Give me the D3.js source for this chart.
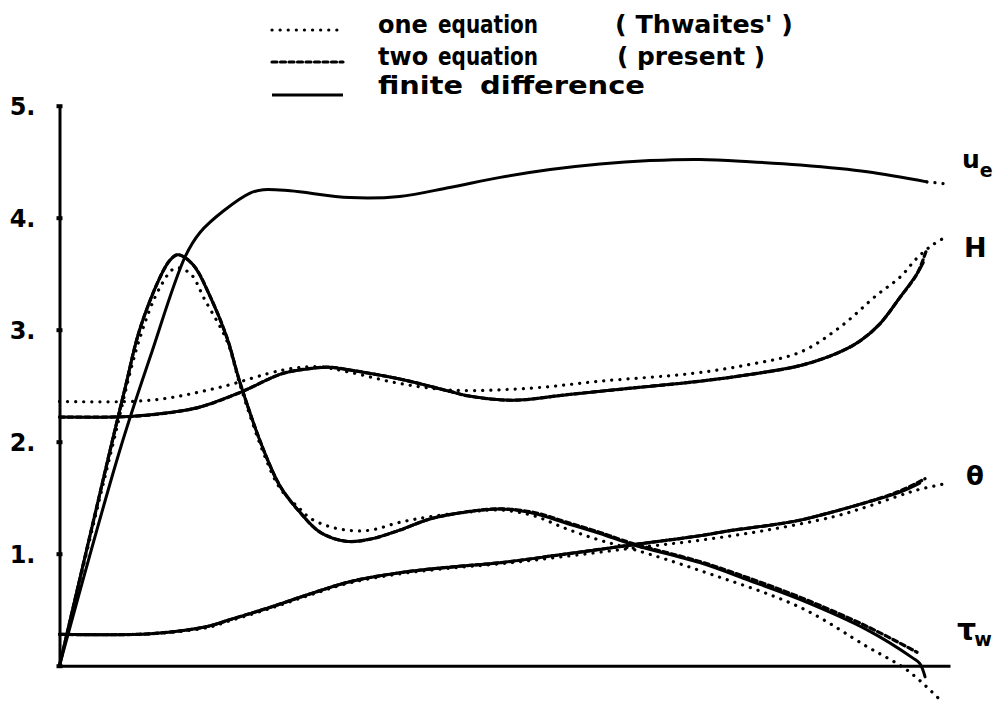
<!DOCTYPE html>
<html>
<head>
<meta charset="utf-8">
<script src="https://cdn.jsdelivr.net/npm/d3@7"></script>
<style>
  body { margin: 0; background: #fff; }
  text { font-family: "DejaVu Sans", sans-serif; font-weight: bold; fill: #000; }
</style>
</head>
<body>
<svg id="chart" width="997" height="702"></svg>
<script>
// y-axis ticks
const yTickValues = [0, 1, 2, 3, 4, 5];

// Edge velocity u_e (input distribution)
const ueFD = [[0,0],[0.068,1.93],[0.102,2.76],[0.141,3.65],[0.158,3.87],[0.184,4.06],[0.214,4.22],[0.229,4.25],[0.259,4.24],[0.326,4.18],[0.382,4.19],[0.438,4.27],[0.495,4.36],[0.551,4.43],[0.607,4.48],[0.663,4.51],[0.719,4.52],[0.775,4.50],[0.832,4.47],[0.907,4.41],[0.974,4.32]];
const ueTail = [[0.974,4.32],[0.998,4.30]];

// Shape factor H
const hFD  = [[0,2.22],[0.079,2.225],[0.124,2.26],[0.158,2.31],[0.203,2.44],[0.251,2.61],[0.289,2.66],[0.304,2.665],[0.326,2.64],[0.382,2.56],[0.438,2.45],[0.458,2.41],[0.509,2.37],[0.570,2.42],[0.644,2.48],[0.719,2.54],[0.775,2.60],[0.832,2.68],[0.876,2.80],[0.899,2.90],[0.921,3.05],[0.944,3.29],[0.963,3.50],[0.970,3.60]];
const hTwo = [[0,2.22],[0.079,2.225],[0.124,2.26],[0.158,2.31],[0.203,2.44],[0.251,2.61],[0.289,2.66],[0.304,2.665],[0.326,2.64],[0.382,2.56],[0.438,2.45],[0.458,2.41],[0.509,2.37],[0.570,2.42],[0.644,2.48],[0.719,2.54],[0.775,2.60],[0.832,2.68],[0.876,2.80],[0.899,2.90],[0.921,3.05],[0.944,3.29],[0.963,3.50],[0.974,3.72]];
const hOne = [[0,2.36],[0.102,2.37],[0.177,2.48],[0.251,2.64],[0.289,2.67],[0.326,2.62],[0.382,2.52],[0.442,2.46],[0.532,2.48],[0.607,2.54],[0.711,2.61],[0.775,2.69],[0.832,2.80],[0.876,3.02],[0.918,3.31],[0.944,3.47],[0.963,3.64],[0.981,3.76],[0.998,3.84]];

// Momentum thickness theta
const thFD  = [[0,0.28],[0.102,0.285],[0.166,0.35],[0.191,0.41],[0.236,0.52],[0.281,0.64],[0.326,0.75],[0.382,0.83],[0.438,0.88],[0.495,0.92],[0.562,0.99],[0.644,1.08],[0.719,1.16],[0.756,1.21],[0.794,1.25],[0.832,1.30],[0.869,1.375],[0.907,1.46],[0.944,1.55],[0.966,1.63]];
const thTwo = [[0,0.28],[0.102,0.285],[0.166,0.35],[0.191,0.41],[0.236,0.52],[0.281,0.64],[0.326,0.75],[0.382,0.83],[0.438,0.88],[0.495,0.92],[0.562,0.99],[0.644,1.08],[0.719,1.16],[0.756,1.21],[0.794,1.25],[0.832,1.30],[0.869,1.375],[0.907,1.46],[0.944,1.56],[0.972,1.67]];
const thOne = [[0,0.28],[0.102,0.285],[0.166,0.34],[0.191,0.40],[0.236,0.51],[0.281,0.63],[0.326,0.74],[0.382,0.82],[0.438,0.87],[0.495,0.91],[0.562,0.97],[0.644,1.05],[0.719,1.12],[0.794,1.21],[0.869,1.33],[0.907,1.42],[0.944,1.52],[0.966,1.575],[0.998,1.63]];

// Wall shear stress tau_w
const twFD  = [[0,0],[0.057,1.93],[0.074,2.49],[0.090,3.0],[0.113,3.47],[0.124,3.62],[0.133,3.67],[0.150,3.58],[0.169,3.30],[0.188,2.93],[0.203,2.52],[0.229,1.93],[0.248,1.60],[0.270,1.37],[0.293,1.19],[0.323,1.11],[0.349,1.13],[0.382,1.21],[0.416,1.31],[0.458,1.375],[0.495,1.40],[0.532,1.36],[0.570,1.27],[0.607,1.18],[0.644,1.08],[0.719,0.92],[0.775,0.76],[0.832,0.59],[0.907,0.32],[0.958,0.07],[0.966,0.02],[0.972,-0.10]];
const twTwo = [[0,0],[0.057,1.93],[0.074,2.49],[0.090,3.0],[0.113,3.47],[0.124,3.62],[0.133,3.67],[0.150,3.58],[0.169,3.30],[0.188,2.93],[0.203,2.52],[0.229,1.93],[0.248,1.60],[0.270,1.37],[0.293,1.19],[0.323,1.11],[0.349,1.13],[0.382,1.21],[0.416,1.31],[0.458,1.375],[0.495,1.40],[0.532,1.37],[0.570,1.28],[0.607,1.19],[0.644,1.09],[0.719,0.93],[0.775,0.78],[0.832,0.61],[0.907,0.35],[0.963,0.12]];
const twOne = [[0,0],[0.057,1.88],[0.090,2.92],[0.113,3.38],[0.130,3.55],[0.147,3.50],[0.163,3.27],[0.188,2.90],[0.203,2.50],[0.229,1.90],[0.248,1.58],[0.270,1.40],[0.281,1.32],[0.300,1.25],[0.323,1.21],[0.349,1.21],[0.382,1.28],[0.416,1.33],[0.458,1.37],[0.495,1.39],[0.532,1.34],[0.570,1.22],[0.607,1.12],[0.644,1.04],[0.719,0.85],[0.832,0.52],[0.907,0.17],[0.952,-0.04],[0.987,-0.29]];

// Legend entries: line style and words (text, left x, fitted width or null)
const legendStyles = ["dotted", "dashed", "solid"];
const legendWords = [
  [["one", 378, null], ["equation", 438, 100], ["( Thwaites' )", 615, 178]],
  [["two", 378, null], ["equation", 438, 100], ["( present )", 617, 148]],
  [["finite", 378, 85], ["difference", 480, 165]]
];

const svg = d3.select("#chart");
const margin = { left: 59.5, right: 47, top: 105.7, bottom: 36.3 };
const W = 997, H = 702;

const x = d3.scaleLinear().domain([0, 1]).range([margin.left, W - margin.right]);
const y = d3.scaleLinear().domain([0, 5]).range([H - margin.bottom, margin.top]);

const dash = { solid: null, dashed: "5,3.5", dotted: "0.1,8" };
const widths = { solid: 3, dashed: 3.2, dotted: 3.2 };

const line = d3.line()
  .x(d => x(d[0]))
  .y(d => y(d[1]))
  .curve(d3.curveCatmullRom.alpha(0.5));

function draw(data, style) {
  svg.append("path")
    .datum(data)
    .attr("d", line)
    .attr("fill", "none")
    .attr("stroke", "#000")
    .attr("stroke-width", widths[style])
    .attr("stroke-linecap", "round")
    .attr("stroke-linejoin", "round")
    .attr("stroke-dasharray", dash[style]);
}

// axes
const yAxis = d3.axisLeft(y)
  .tickValues(yTickValues)
  .tickFormat(d => d === 0 ? "" : d + ".")
  .tickSizeInner(3)
  .tickSizeOuter(0)
  .tickPadding(21);
const gy = svg.append("g").attr("transform", `translate(${margin.left},0)`).call(yAxis);
gy.select(".domain").attr("stroke", "#000").attr("stroke-width", 3);
gy.selectAll(".tick line").attr("stroke", "#000").attr("stroke-width", 4).attr("x2", 3).attr("x1", -3);
gy.selectAll(".tick text")
  .style("font-family", "'DejaVu Sans', sans-serif")
  .style("font-weight", "bold")
  .style("font-size", "24px")
  .attr("dy", "0.35em");

const xAxis = d3.axisBottom(x).tickValues([]).tickSizeOuter(0);
const gx = svg.append("g").attr("transform", `translate(0,${y(0)})`).call(xAxis);
gx.select(".domain").attr("stroke", "#000").attr("stroke-width", 3);

// curves
draw(ueFD, "solid");
draw(ueTail, "dotted");
draw(hOne, "dotted");
draw(hTwo, "dashed");
draw(hFD, "solid");
draw(thOne, "dotted");
draw(thTwo, "dashed");
draw(thFD, "solid");
draw(twOne, "dotted");
draw(twTwo, "dashed");
draw(twFD, "solid");

// legend
const legendRowY = [30, 62, 95];
const legendBase = [33, 65, 94];
legendStyles.forEach((st, i) => {
  svg.append("line")
    .attr("x1", 272).attr("x2", 343)
    .attr("y1", legendRowY[i]).attr("y2", legendRowY[i])
    .attr("stroke", "#000")
    .attr("stroke-width", widths[st])
    .attr("stroke-linecap", st === "solid" ? "butt" : "round")
    .attr("stroke-dasharray", dash[st]);
  legendWords[i].forEach(([w, lx, len]) => {
    const t = svg.append("text")
      .attr("x", lx).attr("y", legendBase[i])
      .attr("font-size", 24)
      .attr("xml:space", "preserve")
      .text(w);
    if (len) t.attr("textLength", len).attr("lengthAdjust", "spacingAndGlyphs");
  });
});

// curve labels
const ueLab = svg.append("text").attr("x", 962).attr("y", 168).attr("font-size", 25);
ueLab.append("tspan").text("u");
ueLab.append("tspan").attr("font-size", 19).attr("dy", 9).text("e");

svg.append("text").attr("x", 964).attr("y", 257).attr("font-size", 27).text("H");
svg.append("text").attr("x", 966).attr("y", 485).attr("font-size", 26).text("θ");

const twLab = svg.append("text").attr("x", 957).attr("y", 640).attr("font-size", 30);
twLab.append("tspan").text("τ");
twLab.append("tspan").attr("font-size", 19).attr("dy", 6).attr("dx", -2).text("w");
</script>
</body>
</html>
